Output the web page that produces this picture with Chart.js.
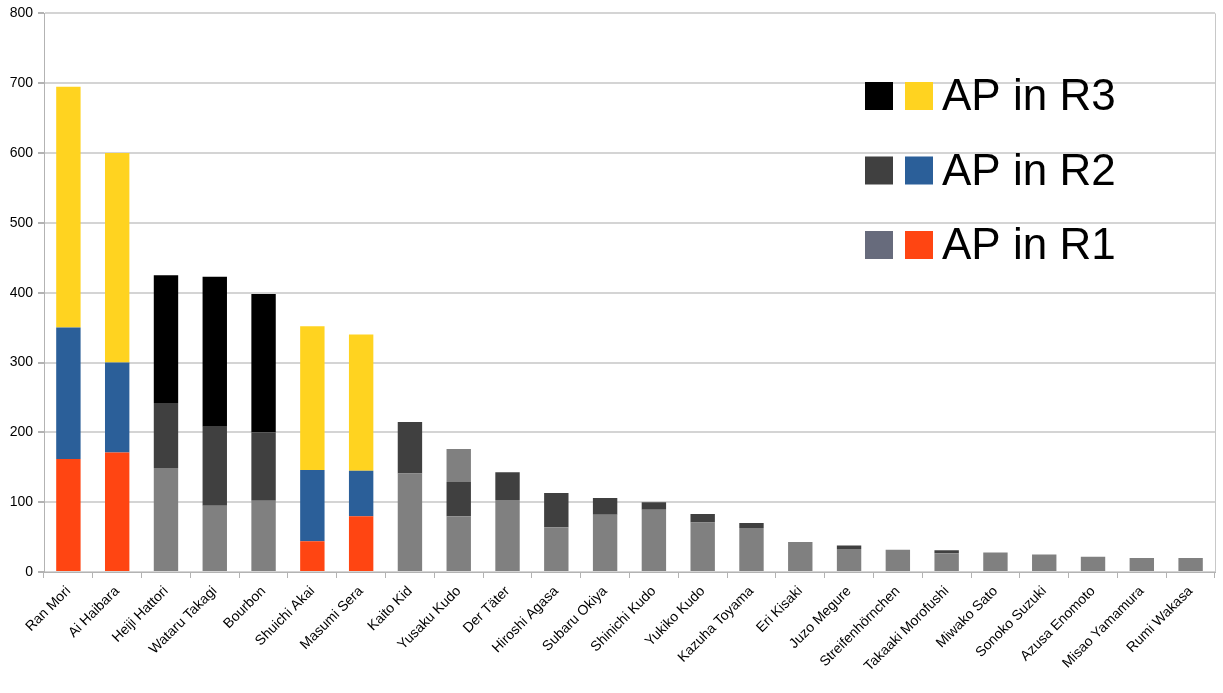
<!DOCTYPE html>
<html>
<head>
<meta charset="utf-8">
<script src="https://cdn.jsdelivr.net/npm/chart.js@4/dist/chart.umd.min.js"></script>
<style>
  html, body { margin: 0; padding: 0; background: #fff; }
  #wrap { width: 1223px; height: 693px; }
</style>
</head>
<body>
<div id="wrap"><canvas id="apChart" width="1223" height="693"></canvas></div>
<script>
// Characters and their AP per round (stacked: R1 at the bottom, R3 on top)
const names = [
    'Ran Mori', 'Ai Haibara', 'Heiji Hattori', 'Wataru Takagi', 'Bourbon',
    'Shuichi Akai', 'Masumi Sera', 'Kaito Kid', 'Yusaku Kudo', 'Der Täter',
    'Hiroshi Agasa', 'Subaru Okiya', 'Shinichi Kudo', 'Yukiko Kudo', 'Kazuha Toyama',
    'Eri Kisaki', 'Juzo Megure', 'Streifenhörnchen', 'Takaaki Morofushi', 'Miwako Sato',
    'Sonoko Suzuki', 'Azusa Enomoto', 'Misao Yamamura', 'Rumi Wakasa'
];
const apR1 = [162, 171, 149, 95, 102, 44, 80, 141, 80, 103, 64, 82, 89, 71, 63, 43, 33, 32, 27, 28, 25, 22, 20, 20];
const apR2 = [188, 129, 93, 113, 98, 102, 65, 74, 49, 40, 49, 24, 11, 12, 7, 0, 5, 0, 4, 0, 0, 0, 0, 0];
const apR3 = [345, 300, 183, 215, 198, 206, 195, 0, 47, 0, 0, 0, 0, 0, 0, 0, 0, 0, 0, 0, 0, 0, 0, 0];
const yTicks = [0, 100, 200, 300, 400, 500, 600, 700, 800];
const legendLabels = ['AP in R3', 'AP in R2', 'AP in R1'];

// Colour groups
const colourful = ['Ran Mori', 'Ai Haibara', 'Shuichi Akai', 'Masumi Sera'];
const greyR3 = ['Yusaku Kudo'];

const RED = '#ff4512', BLUE = '#2b5f99', YELLOW = '#ffd320';
const GREY = '#808080', DARK = '#404040', BLACK = '#000000';

const colR1 = names.map(n => colourful.includes(n) ? RED : GREY);
const colR2 = names.map(n => colourful.includes(n) ? BLUE : DARK);
const colR3 = names.map(n => colourful.includes(n) ? YELLOW : (greyR3.includes(n) ? GREY : BLACK));

// legend rows: [dark swatch, colour swatch]
const legendSwatches = [[BLACK, YELLOW], [DARK, BLUE], ['#676b7c', RED]];

const legendPlugin = {
    id: 'apLegend',
    afterDraw(chart) {
        const ctx = chart.ctx;
        const area = chart.chartArea;
        ctx.save();
        // right border of plot area
        ctx.strokeStyle = '#c8c8c8';
        ctx.lineWidth = 1;
        ctx.beginPath();
        ctx.moveTo(area.right + 0.5, area.top);
        ctx.lineTo(area.right + 0.5, area.bottom);
        ctx.stroke();

        ctx.font = '44px "Liberation Sans", Arial, sans-serif';
        ctx.textBaseline = 'middle';
        ctx.textAlign = 'left';
        legendLabels.forEach((label, i) => {
            const cy = 96 + i * 74.5;
            ctx.fillStyle = legendSwatches[i][0];
            ctx.fillRect(865, cy - 14, 28, 28);
            ctx.fillStyle = legendSwatches[i][1];
            ctx.fillRect(905, cy - 14, 28, 28);
            ctx.fillStyle = '#000';
            ctx.fillText(label, 942, cy + 2);
        });
        ctx.restore();
    }
};

const tickFont = { family: '"Liberation Sans", Arial, sans-serif', size: 14 };

new Chart(document.getElementById('apChart'), {
    type: 'bar',
    data: {
        labels: names,
        datasets: [
            { label: 'AP in R1', data: apR1, backgroundColor: colR1 },
            { label: 'AP in R2', data: apR2, backgroundColor: colR2 },
            { label: 'AP in R3', data: apR3, backgroundColor: colR3 }
        ]
    },
    options: {
        responsive: false,
        animation: false,
        layout: { padding: { top: 11, right: 8, left: 0, bottom: 0 } },
        datasets: { bar: { barPercentage: 0.5, categoryPercentage: 1.0 } },
        plugins: { legend: { display: false }, tooltip: { enabled: false } },
        scales: {
            x: {
                stacked: true,
                grid: { offset: true, drawOnChartArea: false, tickLength: 6, color: '#b3b3b3' },
                border: { color: '#b3b3b3' },
                ticks: { color: '#000', font: tickFont, minRotation: 45, maxRotation: 45, autoSkip: false, padding: 5 },
                afterFit(scale) { scale.height = 121; }
            },
            y: {
                stacked: true,
                min: 0,
                max: 800,
                afterBuildTicks(scale) { scale.ticks = yTicks.map(v => ({ value: v })); },
                grid: { color: '#d4d4d4', lineWidth: 2, tickColor: '#b3b3b3', tickLength: 6 },
                border: { color: '#b3b3b3' },
                ticks: { color: '#000', font: tickFont, padding: 5 },
                afterFit(scale) { scale.width = 44; }
            }
        }
    },
    plugins: [legendPlugin]
});
</script>
</body>
</html>
